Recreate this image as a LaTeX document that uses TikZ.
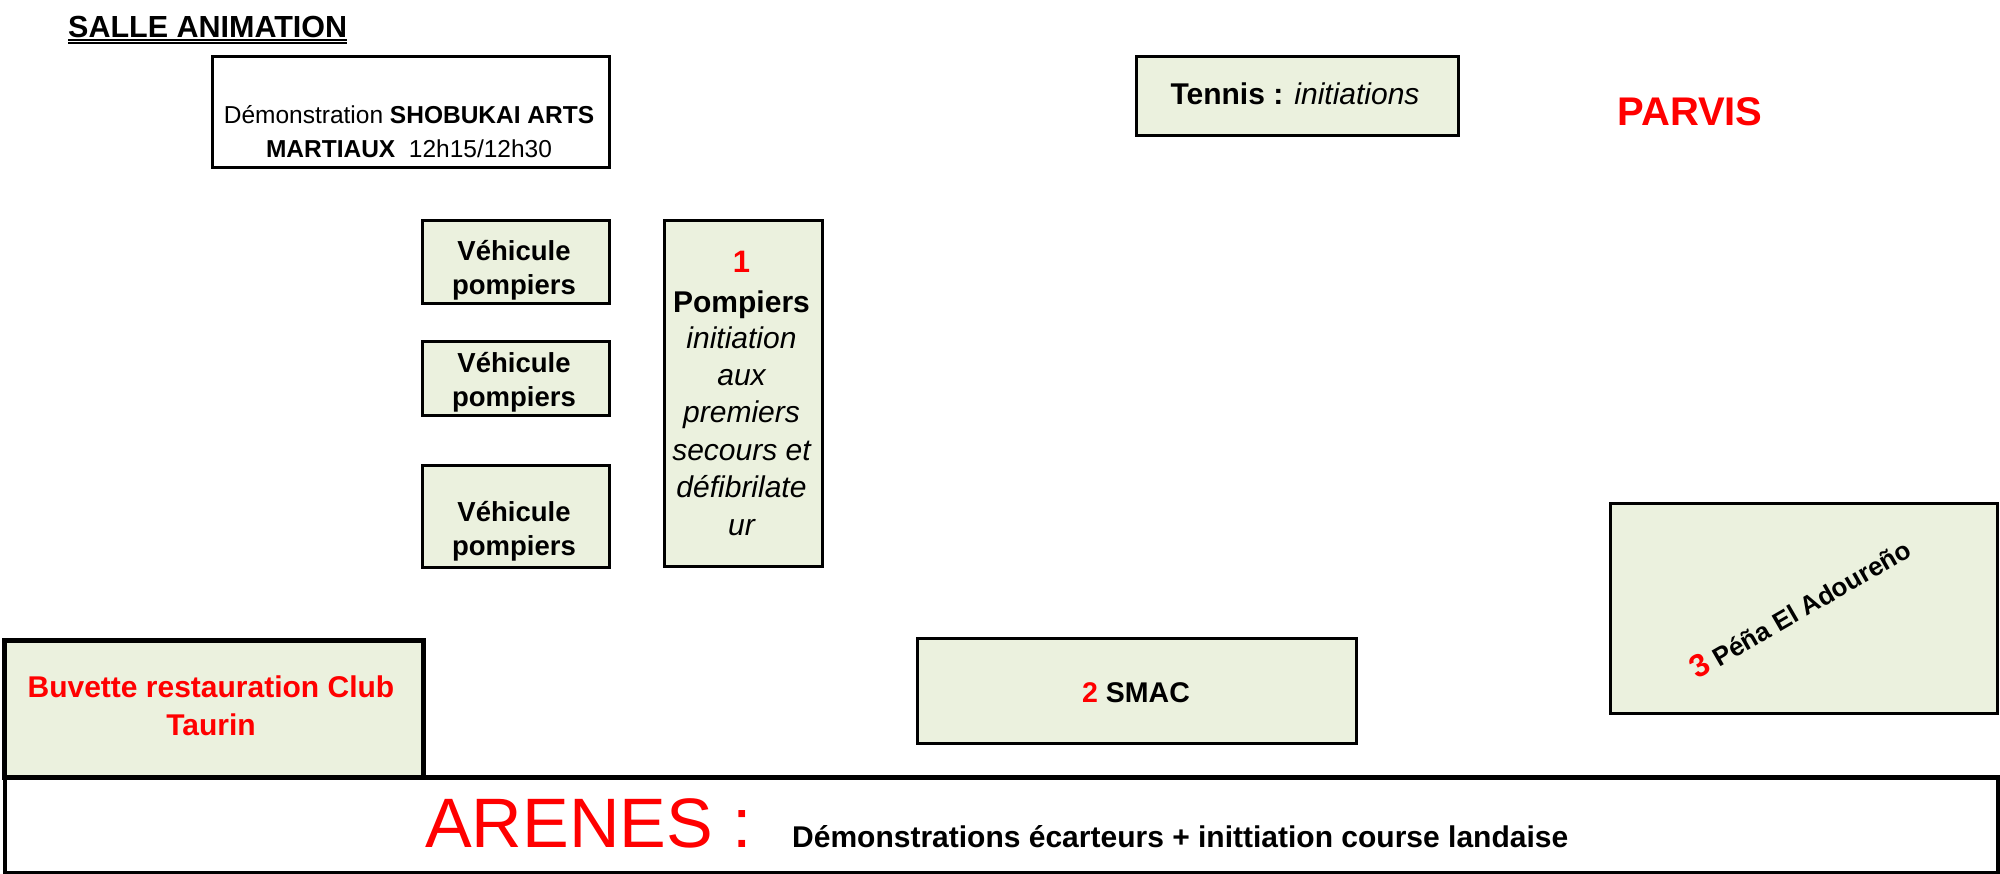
\documentclass[tikz,border=0pt]{standalone}
\usepackage{fontspec}
\setmainfont{Liberation Sans}
\definecolor{boxfill}{HTML}{EBF1DE}
\definecolor{myred}{HTML}{FF0000}
\begin{document}
\begin{tikzpicture}[x=1pt,y=-1pt,
  area/.style={draw=black, line width=2.5pt, inner sep=0pt, anchor=north west},
  greenarea/.style={area, fill=boxfill},
  thickarea/.style={line width=4.5pt},
  lbl/.style={anchor=base, inner sep=0pt},
  f24/.style={font=\fontsize{24.5}{30}\selectfont},
  f27/.style={font=\bfseries\fontsize{27.5}{34}\selectfont},
  f30/.style={font=\fontsize{30}{37}\selectfont},
  f30b/.style={font=\bfseries\fontsize{30}{37}\selectfont},
  f30i/.style={font=\itshape\fontsize{30}{37}\selectfont},
  redtxt/.style={text=myred}]
\useasboundingbox (0,0) rectangle (2000,873);

% SALLE ANIMATION title
\node[anchor=base west, inner sep=0pt, font=\bfseries\fontsize{30.5}{36}\selectfont] (salle) at (68,37) {SALLE ANIMATION};
\draw[line width=1.6pt] ([yshift=-3pt]salle.base west) -- ([yshift=-3pt]salle.base east);
\draw[line width=1.4pt] ([yshift=-6pt]salle.base west) -- ([yshift=-6pt]salle.base east);

% Demonstration box
\node[area, minimum width=397pt, minimum height=111pt] (demo) at (211,55) {};
\node[lbl, f24] (demo1) at (409,123) {Démonstration \textbf{SHOBUKAI ARTS}};
\node[lbl, f24] (demo2) at (409,157) {\textbf{MARTIAUX}\ \ 12h15/12h30};

% Tennis
\node[greenarea, minimum width=322pt, minimum height=79pt] (tennis) at (1135,55) {};
\node[lbl, f30] (tennist) at (1295,104) {\textbf{Tennis :} \textit{initiations}};

% PARVIS
\node[lbl, redtxt, font=\bfseries\fontsize{40}{48}\selectfont] (parvis) at (1690,125) {PARVIS};

% Vehicules pompiers
\node[greenarea, minimum width=187pt, minimum height=83pt] (v1) at (421,219) {};
\node[lbl, f27] (v1a) at (514,260) {Véhicule};
\node[lbl, f27] (v1b) at (514,294) {pompiers};

\node[greenarea, minimum width=187pt, minimum height=74pt] (v2) at (421,340) {};
\node[lbl, f27] (v2a) at (514,372) {Véhicule};
\node[lbl, f27] (v2b) at (514,406) {pompiers};

\node[greenarea, minimum width=187pt, minimum height=102pt] (v3) at (421,464) {};
\node[lbl, f27] (v3a) at (514,521) {Véhicule};
\node[lbl, f27] (v3b) at (514,555) {pompiers};

% Pompiers stand
\node[greenarea, minimum width=158pt, minimum height=346pt] (pomp) at (663,219) {};
\node[lbl, redtxt, font=\bfseries\fontsize{31}{37}\selectfont] (p1) at (741.5,272) {1};
\node[lbl, f30b] (p2) at (741.5,312) {Pompiers};
\node[lbl, f30i] (p3) at (741.5,348) {initiation};
\node[lbl, f30i] (p4) at (741.5,385) {aux};
\node[lbl, f30i] (p5) at (741.5,422) {premiers};
\node[lbl, f30i] (p6) at (741.5,460) {secours et};
\node[lbl, f30i] (p7) at (741.5,497) {défibrilate};
\node[lbl, f30i] (p8) at (741.5,535) {ur};

% Pena
\node[greenarea, minimum width=387pt, minimum height=210pt] (pena) at (1609,502) {};
\node[inner sep=0pt, rotate=30, font=\bfseries\fontsize{26}{31}\selectfont] (penat) at (1800,608) {{\color{myred}\fontsize{32}{38}\selectfont 3} Péña El Adoureño};

% SMAC
\node[greenarea, minimum width=439pt, minimum height=105pt] (smac) at (916,637) {};
\node[lbl, font=\bfseries\fontsize{28.5}{35}\selectfont] (smact) at (1136,702) {{\color{myred}2} SMAC};

% Buvette
\node[greenarea, thickarea, minimum width=419pt, minimum height=137pt] (buv) at (2,638) {};
\node[lbl, f30b, redtxt] (buv1) at (211,697) {Buvette restauration Club};
\node[lbl, f30b, redtxt] (buv2) at (211,735) {Taurin};

% Arenes
\node[area, thickarea, minimum width=1993pt, minimum height=96pt] (arenes) at (2.5,775) {};
\node[anchor=base west, inner sep=0pt, redtxt, font=\fontsize{70}{80}\selectfont] (arenest) at (425,847) {ARENES :};
\node[anchor=base west, inner sep=0pt, f30b] (arenesd) at (792,847) {Démonstrations écarteurs + inittiation course landaise};
\end{tikzpicture}
\end{document}
